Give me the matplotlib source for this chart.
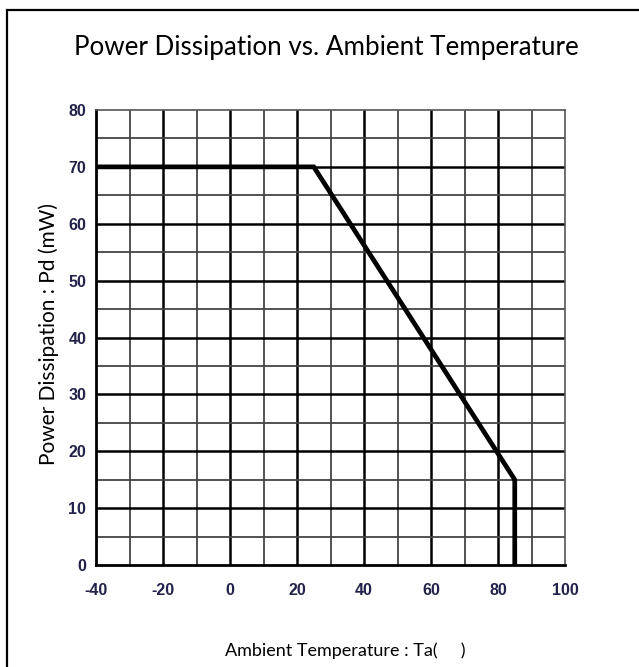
import numpy as np
import matplotlib
matplotlib.use('Agg')
import matplotlib.pyplot as plt
from matplotlib.patches import Rectangle

# --- data ---
temp = [-40, 25, 85, 85]
power = [70, 70, 15, 0]

x_ticks = [-40, -20, 0, 20, 40, 60, 80, 100]
y_ticks = [0, 10, 20, 30, 40, 50, 60, 70, 80]

W, H = 639, 667
fig = plt.figure(figsize=(W / 100, H / 100), dpi=100)
ax = fig.add_axes([96 / W, 1 - 565 / H, (565 - 96) / W, (565 - 110) / H])

# outer frame of the picture (runs past right/bottom edges)
fig.patches.append(Rectangle((7 / W, -0.1), 1.2, 1 - 10 / H + 0.1,
                             transform=fig.transFigure, fill=False,
                             edgecolor='black', linewidth=1.6, zorder=0))

ax.set_xlim(-40, 100)
ax.set_ylim(0, 80)

# grid: thick lines on major, thinner grey on minor
for xv in np.arange(-20, 100, 20):
    ax.axvline(xv, color='black', lw=1.8, zorder=1)
for xv in np.arange(-30, 100, 20):
    ax.axvline(xv, color='#444444', lw=1.3, zorder=1)
for yv in np.arange(10, 80, 10):
    ax.axhline(yv, color='black', lw=1.8, zorder=1)
for yv in np.arange(5, 80, 10):
    ax.axhline(yv, color='#444444', lw=1.3, zorder=1)

ax.plot(temp, power, color='black', lw=3.4, solid_joinstyle='miter', zorder=3)

for s in ['left', 'bottom']:
    ax.spines[s].set_linewidth(2.0)
    ax.spines[s].set_color('black')
for s in ['top', 'right']:
    ax.spines[s].set_linewidth(1.2)
    ax.spines[s].set_color('#555555')

ax.set_xticks(x_ticks)
ax.set_yticks(y_ticks)
tick_font = dict(family=['Liberation Sans', 'DejaVu Sans'], weight='bold', size=11.5)
ax.set_xticklabels([str(v) for v in x_ticks], color='#22224a', **tick_font)
ax.set_yticklabels([str(v) for v in y_ticks], color='#22224a', **tick_font)
ax.tick_params(axis='x', length=0, pad=13)
ax.tick_params(axis='y', length=0, pad=7)

lab_font = ['Lato', 'DejaVu Sans']
fig.text(326 / W, 1 - 48 / H, 'Power Dissipation vs. Ambient Temperature',
         ha='center', va='center', fontsize=18.7, family=lab_font)
fig.text(345 / W, 1 - 651 / H, 'Ambient Temperature : Ta(     )',
         ha='center', va='center', fontsize=13, family=lab_font)
fig.text(49 / W, 1 - 334 / H, 'Power Dissipation : Pd (mW)',
         ha='center', va='center', rotation=90, fontsize=15, family=lab_font)

fig.savefig('out.png', dpi=100)
